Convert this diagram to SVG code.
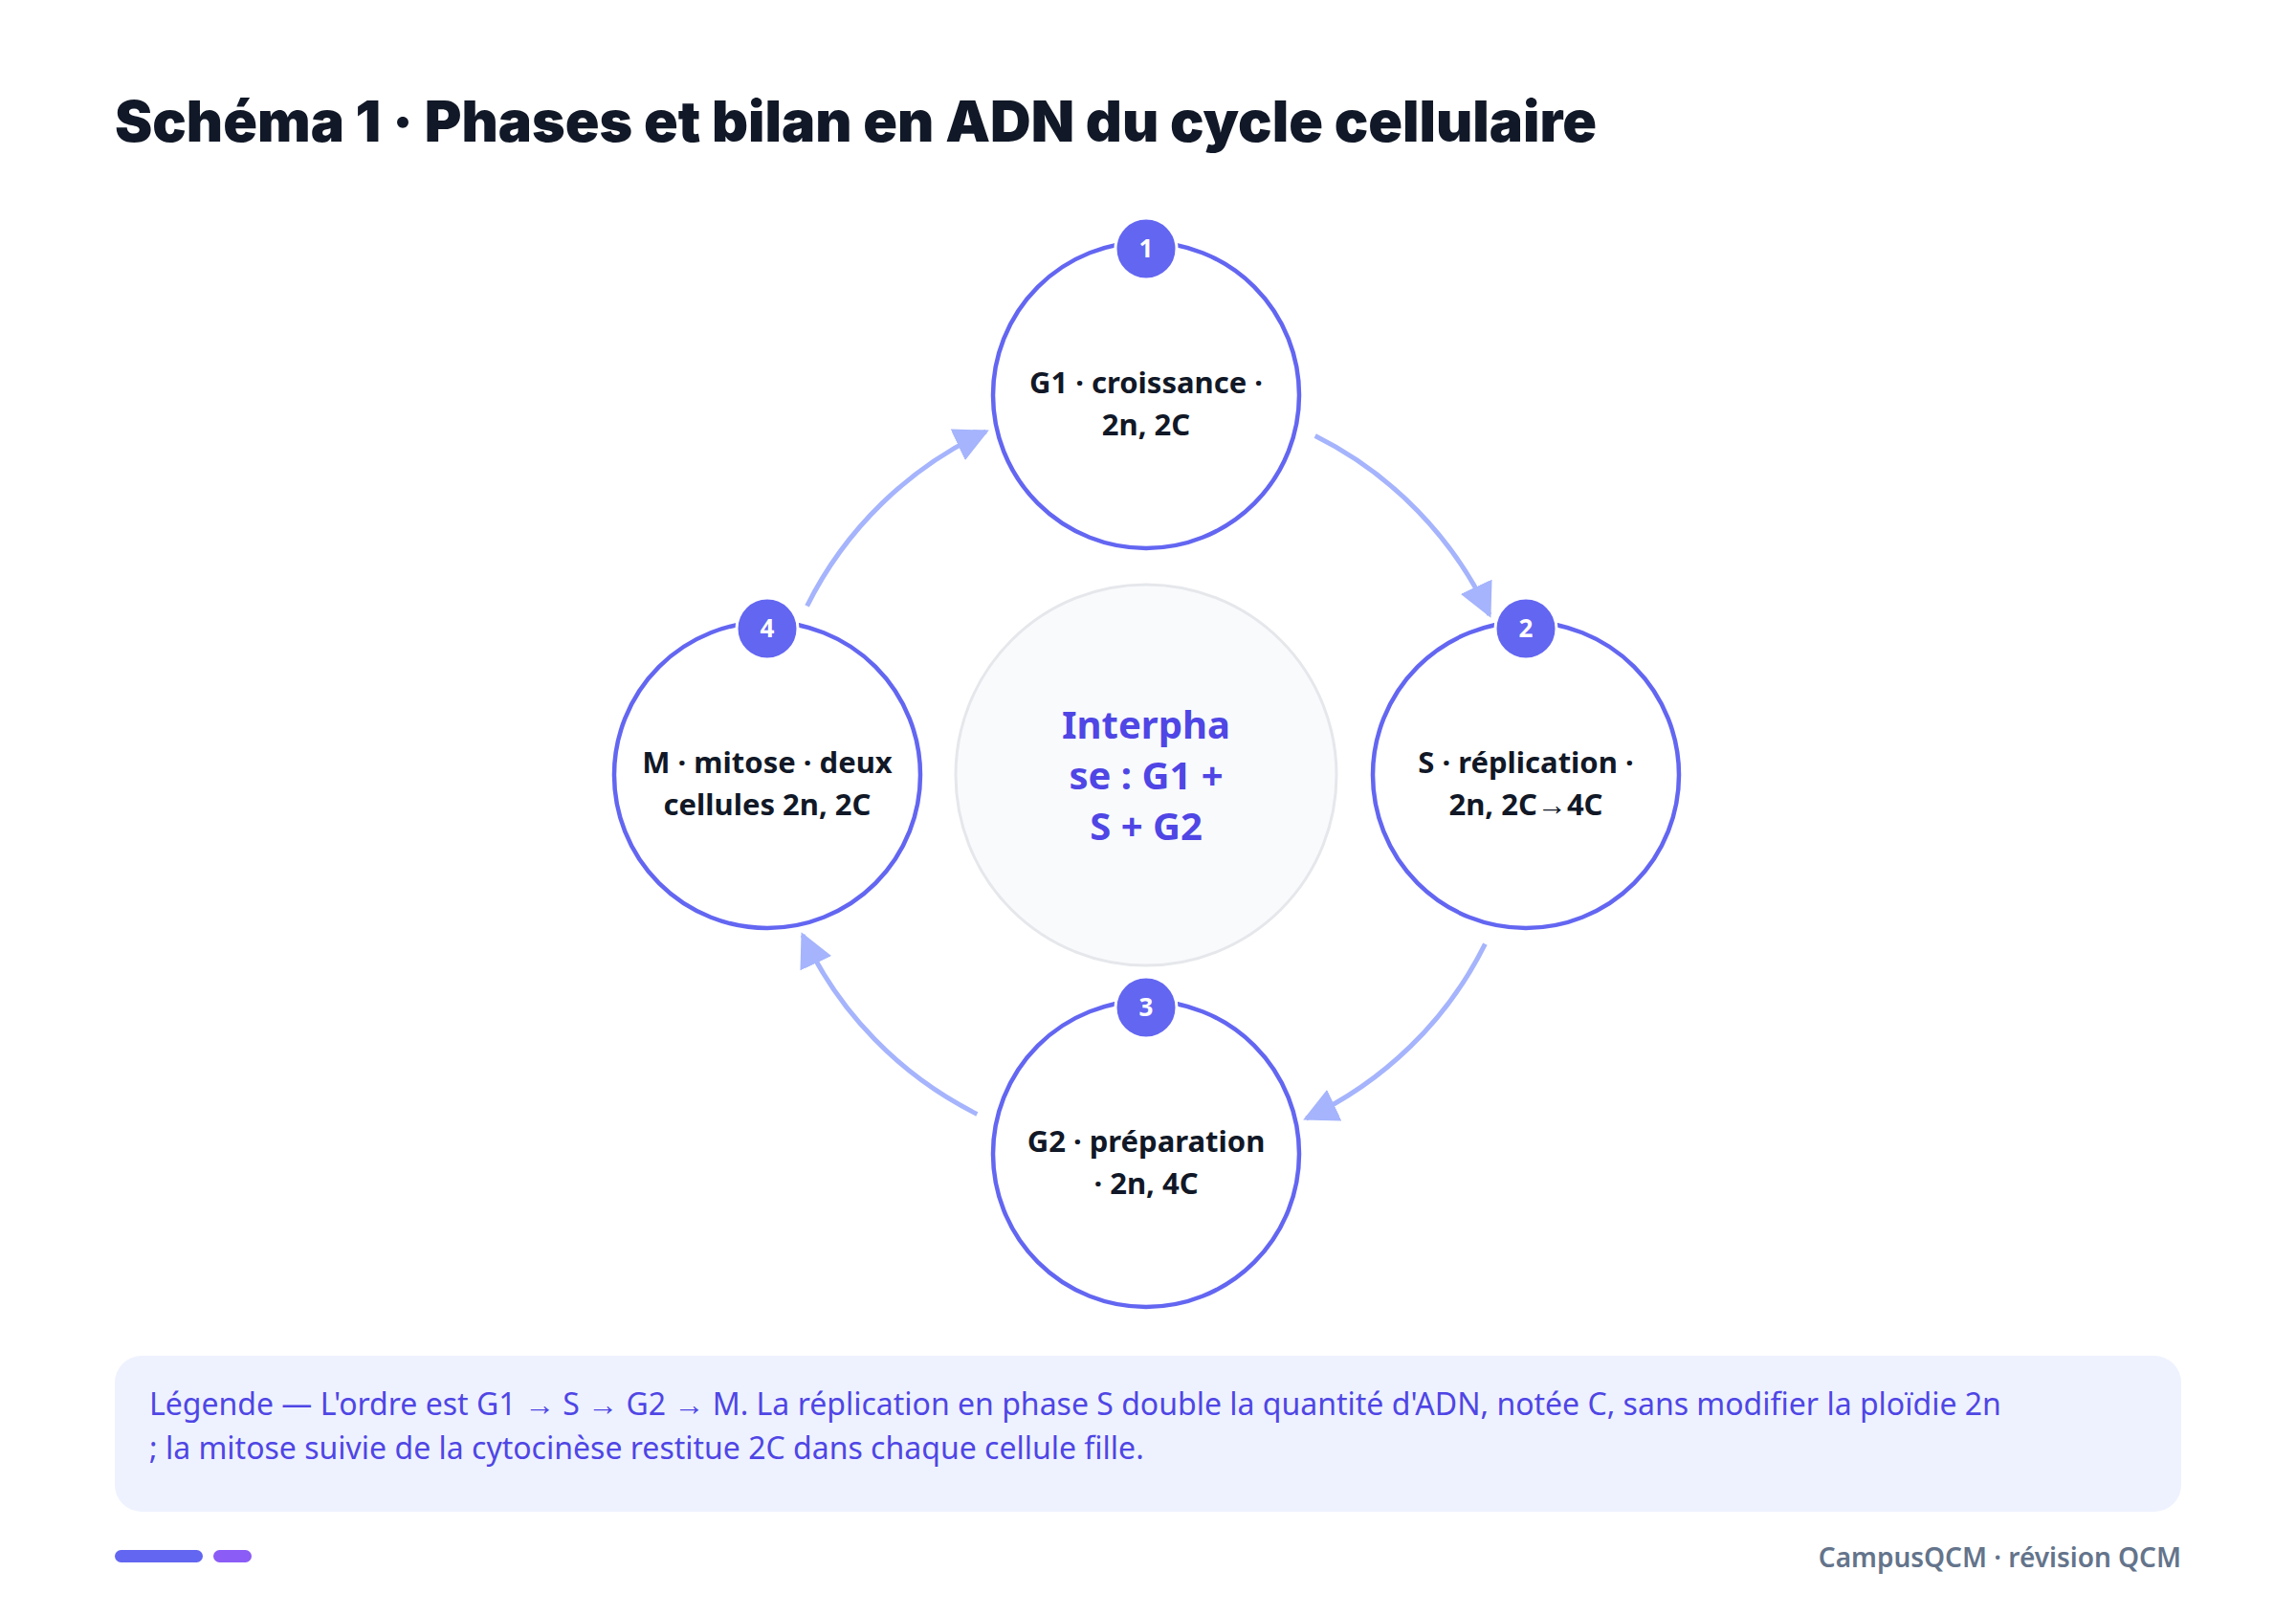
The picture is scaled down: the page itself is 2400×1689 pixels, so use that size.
<svg xmlns="http://www.w3.org/2000/svg" width="2400" height="1689" viewBox="0 0 2400 1689">
<defs>
<marker id="ah" markerUnits="userSpaceOnUse" markerWidth="36" markerHeight="36" viewBox="0 0 40 40" refX="36" refY="20" orient="auto">
<path d="M0,0 L40,20 L0,40 Z" fill="#a5b4fc"/>
</marker>
</defs>
<style>
.node{fill:#fff;stroke:#6366f1;stroke-width:4.5}
.badge{fill:#6366f1;stroke:#fff;stroke-width:3}
.bt{font-family:"Noto Sans","Open Sans",sans-serif;font-weight:700;font-size:26px;fill:#fff;text-anchor:middle}
.nt{font-family:"Noto Sans","Open Sans",sans-serif;font-weight:700;font-size:31px;fill:#111827;text-anchor:middle}
.conn path{fill:none;stroke:#a5b4fc;stroke-width:5;marker-end:url(#ah)}
</style>
<rect width="2400" height="1689" fill="#fff"/>
<text x="120" y="148" font-family="Inter,'Noto Sans',sans-serif" font-weight="900" font-size="59" fill="#111827">Schéma 1 · Phases et bilan en ADN du cycle cellulaire</text>
<g id="center">
<circle cx="1198" cy="810" r="199" fill="#f8fafc" stroke="#e5e7eb" stroke-width="3"/>
<text x="1198" y="772" font-family="'Noto Sans',sans-serif" font-weight="700" font-size="40" fill="#4f46e5" text-anchor="middle">Interpha</text>
<text x="1198" y="825" font-family="'Noto Sans',sans-serif" font-weight="700" font-size="40" fill="#4f46e5" text-anchor="middle">se : G1 +</text>
<text x="1198" y="878" font-family="'Noto Sans',sans-serif" font-weight="700" font-size="40" fill="#4f46e5" text-anchor="middle">S + G2</text>
</g>
<g class="conn" id="connectors">
<path d="M1374.7,455.6 A396,396 0 0 1 1556.9,642.6"/>
<path d="M1552.4,986.7 A396,396 0 0 1 1365.4,1168.9"/>
<path d="M1021.3,1164.4 A396,396 0 0 1 839.1,977.4"/>
<path d="M843.6,633.3 A396,396 0 0 1 1030.6,451.1"/>
</g>
<g id="g1">
<circle class="node" cx="1198" cy="413" r="160"/>
<text class="nt" x="1198" y="411">G1 · croissance ·</text>
<text class="nt" x="1198" y="455">2n, 2C</text>
<circle class="badge" cx="1198" cy="260" r="32"/>
<text class="bt" x="1198" y="269">1</text>
</g>
<g id="s">
<circle class="node" cx="1595" cy="810" r="160"/>
<text class="nt" x="1595" y="808">S · réplication ·</text>
<text class="nt" x="1595" y="852">2n, 2C→4C</text>
<circle class="badge" cx="1595" cy="657" r="32"/>
<text class="bt" x="1595" y="666">2</text>
</g>
<g id="g2">
<circle class="node" cx="1198" cy="1206" r="160"/>
<text class="nt" x="1198" y="1204">G2 · préparation</text>
<text class="nt" x="1198" y="1248">· 2n, 4C</text>
<circle class="badge" cx="1198" cy="1053" r="32"/>
<text class="bt" x="1198" y="1062">3</text>
</g>
<g id="m">
<circle class="node" cx="802" cy="810" r="160"/>
<text class="nt" x="802" y="808">M · mitose · deux</text>
<text class="nt" x="802" y="852">cellules 2n, 2C</text>
<circle class="badge" cx="802" cy="657" r="32"/>
<text class="bt" x="802" y="666">4</text>
</g>
<g id="legend">
<rect x="120" y="1417" width="2160" height="163" rx="28" fill="#eef2ff"/>
<text x="156" y="1479" font-family="'Noto Sans',sans-serif" font-size="32" fill="#4f46e5">Légende — L'ordre est G1 → S → G2 → M. La réplication en phase S double la quantité d'ADN, notée C, sans modifier la ploïdie 2n</text>
<text x="156" y="1525" font-family="'Noto Sans',sans-serif" font-size="32" fill="#4f46e5">; la mitose suivie de la cytocinèse restitue 2C dans chaque cellule fille.</text>
</g>
<g id="footer">
<rect x="120" y="1620" width="92" height="13" rx="6.5" fill="#6366f1"/>
<rect x="223" y="1620" width="40" height="13" rx="6.5" fill="#8b5cf6"/>
<text x="2280" y="1638" font-family="'Noto Sans',sans-serif" font-weight="600" font-size="28" fill="#64748b" text-anchor="end">CampusQCM · révision QCM</text>
</g>
</svg>
